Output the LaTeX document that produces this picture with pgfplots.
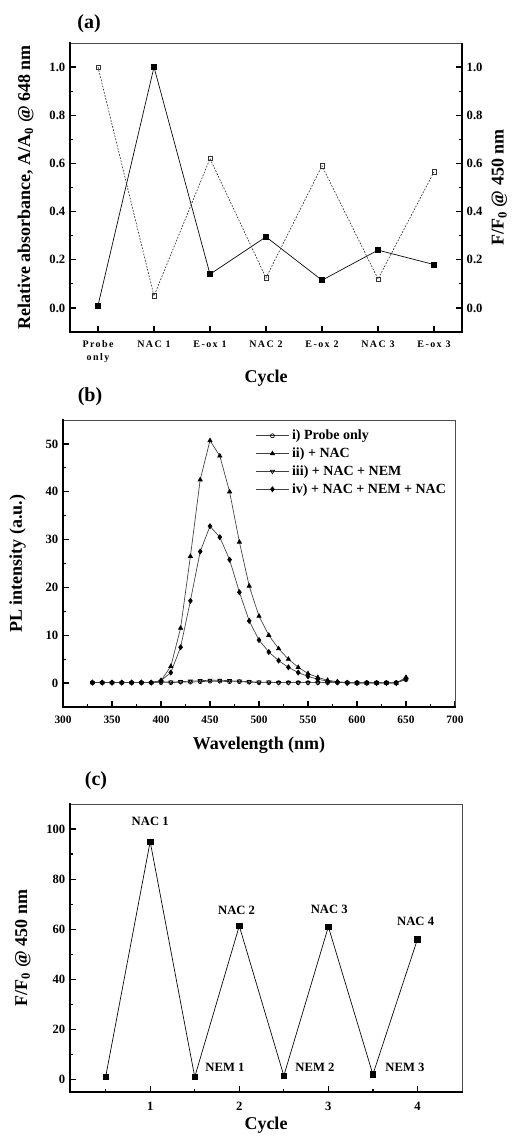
\documentclass[border=0pt]{standalone}
\usepackage{fontspec}
\setmainfont{Liberation Serif}
\usepackage{pgfplots}
\pgfplotsset{compat=1.18}

\pgfplotsset{
  panel/.style={
    scale only axis, width=294pt,
    font=\bfseries,
    /pgf/number format/assume math mode=true,
    ticklabel style={font=\bfseries\fontsize{9.5}{10}\selectfont},
    xticklabel style={yshift=-3pt},
    label style={font=\bfseries\fontsize{13.5}{15}\selectfont},
    every axis y label/.append style={yshift=5pt},
    tick align=inside, tick pos=left,
    major tick length=4.5pt, minor tick length=2.3pt,
    every tick/.style={black, line width=0.9pt},
    axis line style={line width=0.5pt, black!70},
    clip=false,
    after end axis/.code={
      \draw[line width=1.6pt, line cap=rect] (rel axis cs:0,1) -- (rel axis cs:0,0) -- (rel axis cs:1,0);
    },
  },
}

\begin{document}
\begin{tikzpicture}
\path[use as bounding box] (0,0) rectangle (383.25pt,-853.5pt);

% ---------- (a)
\node[font=\bfseries\fontsize{15}{16}\selectfont] at (66.75pt,-18pt) {(a)};
\begin{axis}[panel,
  at={(52.5pt,-32.25pt)}, anchor=north west, height=216.75pt,
  xmin=-0.5, xmax=6.5, ymin=-0.1, ymax=1.1,
  xtick={0,...,6},
  xticklabels={Probe\\only, NAC 1, E-ox 1, NAC 2, E-ox 2, NAC 3, E-ox 3},
  xticklabel style={font=\bfseries\fontsize{7.5}{9.5}\selectfont\addfontfeatures{LetterSpace=14}, align=center, anchor=north},
  ytick={0,0.2,...,1.0}, minor y tick num=1,
  yticklabel style={/pgf/number format/.cd, fixed, fixed zerofill, precision=1},
  xlabel={Cycle},
  xlabel style={yshift=1pt},
  ylabel={Relative absorbance, A/A\textsubscript{0} @ 648 nm},
]
\addplot[black, line width=0.5pt, mark=square*, mark size=1.9pt] coordinates {
  (0,0.01) (1,1.0) (2,0.14) (3,0.295) (4,0.115) (5,0.24) (6,0.18)
};
\addplot[black!80, line width=0.5pt, dash pattern=on 1.3pt off 1.1pt,
  mark=square, mark size=1.6pt, mark options={solid, fill=white}] coordinates {
  (0,1.0) (1,0.05) (2,0.62) (3,0.125) (4,0.59) (5,0.12) (6,0.565)
};
\end{axis}
\begin{axis}[
  scale only axis, width=294pt, height=216.75pt,
  at={(52.5pt,-32.25pt)}, anchor=north west,
  xmin=-0.5, xmax=6.5, ymin=-0.1, ymax=1.1,
  axis x line=none, axis y line*=right,
  /pgf/number format/assume math mode=true,
  ticklabel style={font=\bfseries\fontsize{9.5}{10}\selectfont},
  label style={font=\bfseries\fontsize{13.5}{15}\selectfont},
  tick align=inside,
  major tick length=4.5pt, minor tick length=2.3pt,
  every tick/.style={black, line width=0.9pt},
  axis line style={line width=1.6pt, black, -},
  ytick={0,0.2,...,1.0}, minor y tick num=1,
  yticklabel style={/pgf/number format/.cd, fixed, fixed zerofill, precision=1},
  ylabel={F/F\textsubscript{0} @ 450 nm},
]
\end{axis}

% ---------- (b)
\node[font=\bfseries\fontsize{15}{16}\selectfont] at (67.5pt,-297.75pt) {(b)};
\begin{axis}[panel,
  at={(47.25pt,-315pt)}, anchor=north west, height=215.25pt,
  xmin=300, xmax=700, ymin=-5, ymax=55,
  xtick={300,350,...,700}, minor x tick num=1,
  ytick={0,10,...,50}, minor y tick num=1,
  xticklabel style={font=\bfseries\fontsize{8.5}{9}\selectfont, yshift=-0.5pt},
  xlabel={Wavelength (nm)},
  xlabel style={yshift=-3pt},
  ylabel={PL intensity (a.u.)},
  every axis y label/.append style={yshift=3pt},
  legend style={draw=none, fill=none, at={(0.48,0.985)}, anchor=north west,
    font=\bfseries\fontsize{10.5}{12}\selectfont, row sep=0.6pt,
    legend cell align=left},
  legend image code/.code={
    \draw[mark repeat=2, mark phase=2, #1] plot coordinates {(0pt,0pt) (12.5pt,0pt) (25pt,0pt)};
  },
  every axis plot/.append style={line width=0.5pt, black!75},
]
\addplot[mark=o, mark size=1.5pt, mark options={fill=white, black}] coordinates {
  (330,0.1) (340,0.1) (350,0.1) (360,0.1) (370,0.1) (380,0.1) (390,0.1)
  (400,0.1) (410,0.1) (420,0.2) (430,0.2) (440,0.3) (450,0.4) (460,0.4)
  (470,0.3) (480,0.3) (490,0.2) (500,0.1) (510,0.1) (520,0.1) (530,0.1)
  (540,0.1) (550,0.1) (560,0.1) (570,0.1) (580,0.1) (590,0.1) (600,0.1)
  (610,0.1) (620,0.1) (630,0.1) (640,0.1) (650,0.7)
};
\addlegendentry{i) Probe only}
\addplot[mark=triangle*, mark size=1.8pt, mark options={black}] coordinates {
  (330,0.1) (340,0.1) (350,0.1) (360,0.1) (370,0.1) (380,0.1) (390,0.1)
  (400,0.5) (410,3.5) (420,11.5) (430,26.5) (440,42.5) (450,50.7) (460,47.5)
  (470,40) (480,29.5) (490,20.3) (500,14) (510,10) (520,7.2) (530,5)
  (540,3.3) (550,2) (560,1.2) (570,0.6) (580,0.3) (590,0.1) (600,0)
  (610,0) (620,0) (630,0) (640,0) (650,1.2)
};
\addlegendentry{ii) + NAC}
\addplot[mark=triangle, mark size=1.7pt, mark options={rotate=180, fill=white, black}] coordinates {
  (330,0.1) (340,0.1) (350,0.1) (360,0.1) (370,0.1) (380,0.1) (390,0.1)
  (400,0.3) (410,0.2) (420,0.3) (430,0.4) (440,0.5) (450,0.6) (460,0.6)
  (470,0.5) (480,0.4) (490,0.3) (500,0.2) (510,0.2) (520,0.1) (530,0.1)
  (540,0.1) (550,0.1) (560,0.1) (570,0.1) (580,0.1) (590,0.1) (600,0.1)
  (610,0.1) (620,0.1) (630,0.1) (640,0.1) (650,0.8)
};
\addlegendentry{iii) + NAC + NEM}
\addplot[mark=diamond*, mark size=1.9pt, mark options={black}] coordinates {
  (330,0.1) (340,0.1) (350,0.1) (360,0.1) (370,0.1) (380,0.1) (390,0.1)
  (400,0.5) (410,2.2) (420,7.5) (430,17.2) (440,27.5) (450,32.8) (460,30.5)
  (470,25.8) (480,19) (490,13) (500,9) (510,6.5) (520,4.7) (530,3.3)
  (540,2.2) (550,1.4) (560,0.8) (570,0.4) (580,0.2) (590,0) (600,0)
  (610,0) (620,0) (630,0) (640,0) (650,1)
};
\addlegendentry{iv) + NAC + NEM + NAC}
\end{axis}

% ---------- (c)
\node[font=\bfseries\fontsize{15}{16}\selectfont] at (72pt,-585.75pt) {(c)};
\begin{axis}[panel,
  at={(52.5pt,-603pt)}, anchor=north west, height=216pt,
  xmin=0.1, xmax=4.5, ymin=-5, ymax=110,
  xtick={1,2,3,4}, minor xtick={0.5,1.5,2.5,3.5},
  ytick={0,20,...,100}, minor y tick num=1,
  xticklabel style={yshift=-1pt},
  xlabel={Cycle},
  xlabel style={yshift=2pt},
  ylabel={F/F\textsubscript{0} @ 450 nm},
]
\addplot[black, line width=0.5pt, mark=square*, mark size=2pt] coordinates {
  (0.5,1) (1,95) (1.5,1) (2,61.3) (2.5,1.5) (3,61) (3.5,2) (4,56)
};
\begin{scope}[font=\bfseries\fontsize{9.5}{11}\selectfont]
\node at (axis cs:1,103) {NAC 1};
\node at (axis cs:1.97,67.5) {NAC 2};
\node at (axis cs:3.01,68) {NAC 3};
\node at (axis cs:3.98,63) {NAC 4};
\node at (axis cs:1.84,5) {NEM 1};
\node at (axis cs:2.85,5) {NEM 2};
\node at (axis cs:3.86,5) {NEM 3};
\end{scope}
\end{axis}
\end{tikzpicture}
\end{document}
